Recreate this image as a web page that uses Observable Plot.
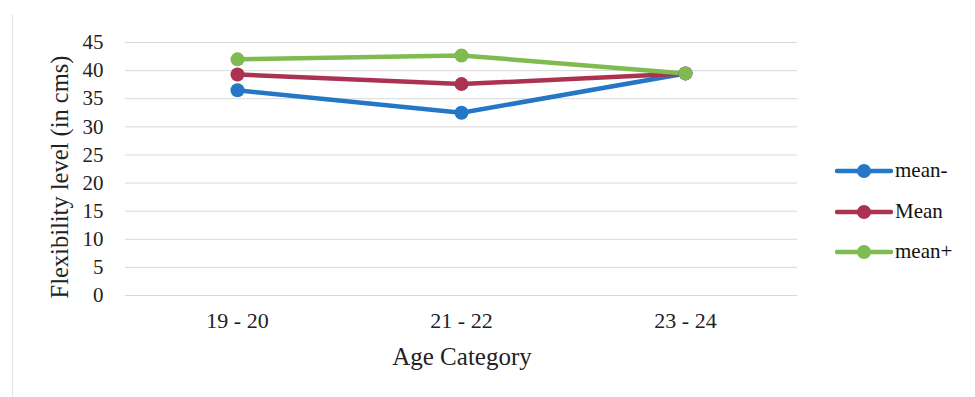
<!DOCTYPE html>
<html>
<head>
<meta charset="utf-8">
<script src="https://cdn.jsdelivr.net/npm/d3@7"></script>
<script src="https://cdn.jsdelivr.net/npm/@observablehq/plot@0.6"></script>
<style>
  html, body { margin: 0; padding: 0; background: #fff; }
  #wrap { position: relative; width: 975px; height: 397px; overflow: hidden; }
  #frame { position: absolute; left: 12px; top: 14px; width: 1px; height: 383px; background: #e4e4e4; }
  #legend { position: absolute; left: 835px; top: 0; font-family: "Liberation Serif", "Times New Roman", serif; font-size: 21px; color: #111; }
  .item { position: absolute; left: 0; display: flex; align-items: center; white-space: nowrap; }
  .item svg { display: block; margin-right: 2px; }
</style>
</head>
<body>
<div id="wrap">
  <div id="frame"></div>
  <div id="chart"></div>
  <div id="legend"></div>
</div>
<script>
// Age groups on the x axis
const categories = ["19 - 20", "21 - 22", "23 - 24"];
// Flexibility level (cm) per series
const seriesNames = ["mean-", "Mean", "mean+"];
const meanMinus = [36.5, 32.5, 39.5];
const meanValues = [39.3, 37.6, 39.5];
const meanPlus = [42.0, 42.7, 39.5];
const seriesColors = ["#2377c6", "#ac3252", "#7fbb4f"];
const yTicks = [0, 5, 10, 15, 20, 25, 30, 35, 40, 45];

const valuesBySeries = [meanMinus, meanValues, meanPlus];
const rows = seriesNames.flatMap((s, i) =>
  categories.map((c, j) => ({series: s, category: c, value: valuesBySeries[i][j]}))
);

const serif = "Liberation Serif, Times New Roman, serif";

const chart = Plot.plot({
  width: 975,
  height: 397,
  marginLeft: 125,
  marginRight: 178,
  marginTop: 42,
  marginBottom: 102,
  style: {fontFamily: serif, fontSize: "21px", color: "#222", background: "transparent"},
  x: {type: "point", domain: categories, padding: 0.5, label: null},
  y: {domain: [0, 45], ticks: yTicks, label: null},
  color: {domain: seriesNames, range: seriesColors},
  marks: [
    Plot.gridY(yTicks, {stroke: "#d9d9d9", strokeOpacity: 1, strokeWidth: 1}),
    Plot.axisY(yTicks, {tickSize: 0, tickPadding: 22, fontSize: 21, label: null}),
    Plot.axisX({tickSize: 0, tickPadding: 17, fontSize: 22, label: null}),
    Plot.line(rows, {x: "category", y: "value", z: "series", stroke: "series", strokeWidth: 4.5, strokeLinejoin: "round"}),
    Plot.dot(rows, {x: "category", y: "value", fill: "series", r: 7})
  ]
});
document.getElementById("chart").appendChild(chart);

// Axis titles placed in the margins of the SVG
const svg = d3.select(chart);
svg.append("text")
  .attr("transform", "translate(68,177) rotate(-90)")
  .attr("text-anchor", "middle")
  .attr("font-family", serif)
  .attr("font-size", 24.5)
  .attr("fill", "#222")
  .text("Flexibility level (in cms)");
svg.append("text")
  .attr("x", 462)
  .attr("y", 365)
  .attr("text-anchor", "middle")
  .attr("font-family", serif)
  .attr("font-size", 25)
  .attr("fill", "#222")
  .text("Age Category");

// Legend: line-with-marker swatch followed by series name
const legendTops = [170, 211, 251];
const legend = d3.select("#legend");
seriesNames.forEach((name, i) => {
  const item = legend.append("div").attr("class", "item").style("top", (legendTops[i] - 12) + "px");
  const sw = item.append("svg").attr("width", 58).attr("height", 24);
  sw.append("line").attr("x1", 2).attr("x2", 56).attr("y1", 12).attr("y2", 12)
    .attr("stroke", seriesColors[i]).attr("stroke-width", 4.5).attr("stroke-linecap", "round");
  sw.append("circle").attr("cx", 29).attr("cy", 12).attr("r", 7).attr("fill", seriesColors[i]);
  item.append("span").text(name);
});
</script>
</body>
</html>
